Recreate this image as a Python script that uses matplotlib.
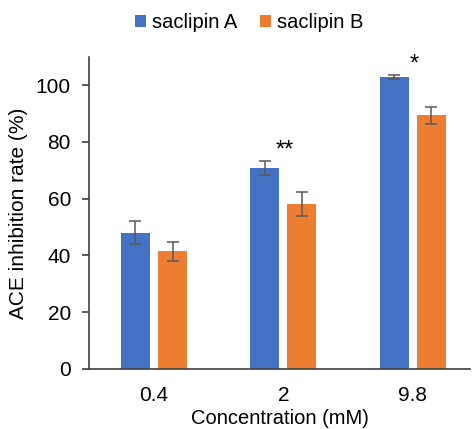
import numpy as np
import matplotlib.pyplot as plt

plt.rcParams["font.family"] = ["Liberation Sans", "DejaVu Sans"]

# data
concentrations = ["0.4", "2", "9.8"]
saclipin_a = [48.0, 70.8, 102.9]
saclipin_a_err = [4.1, 2.5, 0.6]
saclipin_b = [41.5, 58.1, 89.4]
saclipin_b_err = [3.3, 4.1, 3.0]
marks = ["", "**", "*"]

x = np.arange(len(concentrations))
width = 0.224
offset = 0.143

fig = plt.figure(figsize=(4.72, 4.29), dpi=100)
ax = fig.add_axes([0.1886, 0.1399, 0.807, 0.728])

err_style = dict(ecolor="#595959", elinewidth=1.1, capsize=4, capthick=1.1)
ax.bar(x - offset, saclipin_a, width, yerr=saclipin_a_err, color="#4472C4",
       label="saclipin A", error_kw=err_style, zorder=2)
ax.bar(x + offset, saclipin_b, width, yerr=saclipin_b_err, color="#ED7D31",
       label="saclipin B", error_kw=err_style, zorder=2)

# significance stars above each group
for i, m in enumerate(marks):
    if m:
        top = max(saclipin_a[i] + saclipin_a_err[i], saclipin_b[i] + saclipin_b_err[i])
        ax.text(x[i] + 0.01, top - 0.3, m, ha="center", va="bottom", fontsize=17)

ax.set_xlim(-0.502, 2.44)
ax.set_ylim(0, 110)
ax.set_yticks([0, 20, 40, 60, 80, 100])
ax.set_xticks(x)
ax.set_xticklabels(concentrations)

for s in ["top", "right"]:
    ax.spines[s].set_visible(False)
for s in ["left", "bottom"]:
    ax.spines[s].set_color("#404040")
    ax.spines[s].set_linewidth(1.2)

ax.tick_params(axis="y", length=5, width=1.2, color="#404040", labelsize=15, pad=8)
ax.tick_params(axis="x", length=0, labelsize=15, pad=12)
ax.set_xlabel("Concentration (mM)", fontsize=14.5, labelpad=3)
ax.set_ylabel("ACE inhibition rate (%)", fontsize=15, labelpad=6)

ax.legend(loc="center", bbox_to_anchor=(0.42, 1.11), ncol=2, frameon=False,
          fontsize=14.5, handlelength=0.55, handleheight=0.55, handletextpad=0.3,
          columnspacing=1.1)

fig.savefig("out.png", dpi=100)
